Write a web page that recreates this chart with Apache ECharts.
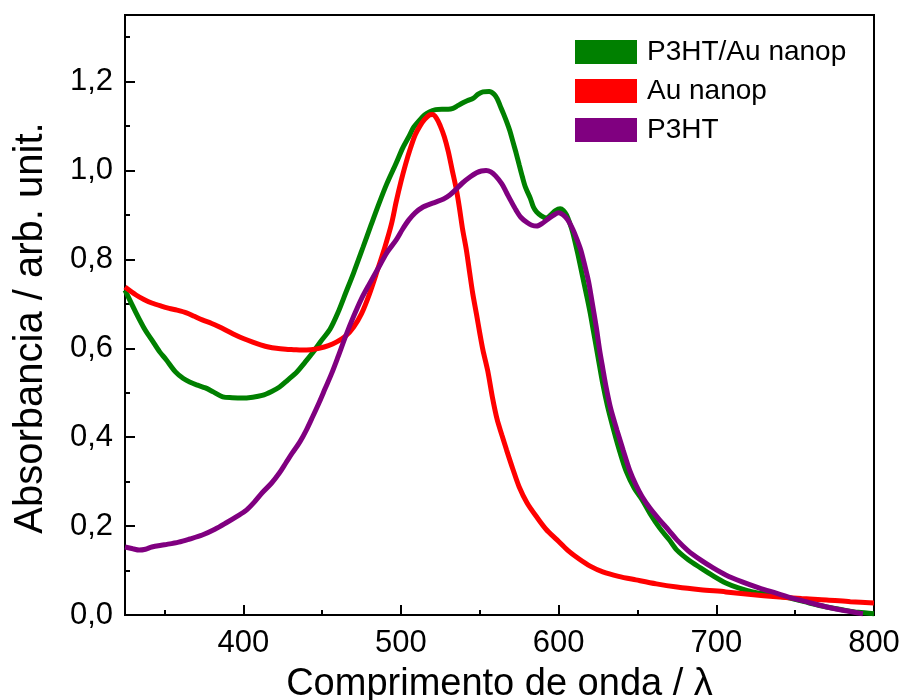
<!DOCTYPE html>
<html>
<head>
<meta charset="utf-8">
<script src="https://cdn.jsdelivr.net/npm/echarts@6/dist/echarts.min.js"></script>
<style>
html,body{margin:0;padding:0;background:#fff;}
#chart{width:904px;height:700px;}
</style>
</head>
<body>
<div id="chart"></div>
<script>
// ---- data (wavelength nm, absorbance) ----
const seriesNames = ['P3HT/Au nanop', 'Au nanop', 'P3HT'];

const p3htAu = [[325,0.731],[332,0.68],[338,0.64],[342,0.619],[347,0.592],[351,0.575],[357,0.547],[362,0.532],[366,0.524],[371,0.517],[376,0.511],[381,0.502],[387,0.491],[393,0.489],[399,0.488],[406,0.49],[412,0.494],[418,0.503],[423,0.513],[428,0.528],[434,0.547],[439,0.568],[444,0.59],[449,0.615],[455,0.643],[460,0.68],[465,0.725],[470,0.77],[476,0.828],[481,0.877],[486,0.925],[491,0.97],[497,1.017],[501,1.05],[505,1.076],[508,1.097],[512,1.114],[515,1.125],[518,1.132],[522,1.137],[526,1.138],[530,1.138],[533,1.14],[536,1.146],[539,1.152],[542,1.157],[546,1.163],[549,1.172],[552,1.177],[556,1.178],[559,1.172],[561,1.162],[563,1.145],[565,1.128],[567,1.11],[569,1.09],[571,1.065],[573,1.04],[575,1.013],[577,0.986],[579,0.962],[582,0.938],[584,0.918],[586,0.907],[589,0.898],[592,0.893],[595,0.9],[598,0.91],[601,0.914],[603,0.91],[605,0.9],[607,0.882],[609,0.86],[612,0.815],[615,0.765],[618,0.715],[620,0.68],[622,0.64],[625,0.58],[628,0.52],[631,0.47],[635,0.415],[639,0.365],[643,0.322],[648,0.285],[653,0.259],[658,0.228],[664,0.196],[670,0.17],[675,0.146],[682,0.125],[690,0.106],[698,0.088],[706,0.072],[714,0.061],[723,0.052],[731,0.047],[738,0.043],[748,0.037],[759,0.027],[770,0.018],[781,0.011],[790,0.006],[800,0.003]];

const auNanop = [[325,0.738],[332,0.72],[337,0.71],[342,0.702],[348,0.695],[353,0.69],[358,0.686],[364,0.68],[369,0.672],[374,0.664],[380,0.656],[385,0.648],[390,0.639],[395,0.63],[400,0.622],[406,0.614],[411,0.608],[416,0.603],[421,0.6],[427,0.598],[432,0.597],[437,0.596],[443,0.597],[448,0.6],[454,0.606],[459,0.614],[465,0.628],[470,0.648],[475,0.678],[480,0.722],[485,0.775],[490,0.83],[494,0.88],[497,0.93],[500,0.975],[503,1.015],[506,1.05],[509,1.08],[512,1.1],[515,1.115],[518,1.125],[520,1.126],[522.5,1.118],[525,1.1],[527.5,1.076],[530,1.043],[532.5,1.001],[535,0.96],[537,0.918],[539,0.87],[541.5,0.821],[543.5,0.772],[545.5,0.724],[548,0.675],[550,0.634],[552,0.596],[555,0.55],[558,0.49],[561,0.44],[564,0.405],[567,0.371],[571,0.328],[575,0.288],[580,0.252],[586,0.221],[592,0.193],[599,0.169],[606,0.145],[613,0.126],[620,0.11],[628,0.097],[638,0.087],[649,0.079],[662,0.07],[675,0.063],[690,0.057],[706,0.052],[722,0.046],[738,0.041],[754,0.037],[770,0.034],[785,0.03],[800,0.027]];

const p3ht = [[325,0.153],[330,0.149],[334,0.146],[338,0.148],[342,0.153],[350,0.158],[359,0.164],[366,0.171],[374,0.18],[382,0.193],[389,0.207],[396,0.222],[402,0.236],[407,0.254],[412,0.275],[418,0.297],[423,0.32],[427,0.342],[431,0.364],[436,0.39],[440,0.416],[444,0.446],[448,0.477],[452,0.51],[456,0.543],[460,0.58],[465,0.628],[470,0.672],[475,0.712],[480,0.745],[486,0.783],[491,0.815],[497,0.844],[501,0.868],[505,0.889],[509,0.905],[514,0.918],[518,0.924],[522,0.929],[527,0.936],[531,0.945],[535,0.958],[539,0.972],[544,0.986],[548,0.995],[551,0.999],[554,1.0],[557,0.997],[560,0.988],[564,0.97],[567,0.95],[570,0.93],[573,0.911],[576,0.895],[580,0.883],[583,0.877],[586,0.875],[590,0.882],[594,0.893],[597,0.9],[600,0.905],[603,0.9],[606,0.888],[609,0.868],[611,0.851],[614,0.822],[616,0.795],[619,0.75],[621,0.709],[624,0.645],[626,0.596],[628,0.555],[630,0.515],[633,0.465],[637,0.416],[641,0.37],[645,0.326],[649,0.293],[653,0.266],[658,0.24],[664,0.214],[670,0.19],[675,0.169],[682,0.145],[690,0.124],[698,0.106],[706,0.09],[716,0.075],[727,0.061],[738,0.049],[748,0.038],[759,0.028],[770,0.018],[781,0.01],[793,0.003]];

const xMajorTicks = [400, 500, 600, 700, 800];
const xMinorTicks = [350, 450, 550, 650, 750];
const yMajorTicks = [0, 0.2, 0.4, 0.6, 0.8, 1.0, 1.2];
const yMinorTicks = [0.1, 0.3, 0.5, 0.7, 0.9, 1.1, 1.3];

const xTitle = 'Comprimento de onda / λ';
const yTitle = 'Absorbancia / arb. unit.';

// ---- chart ----
const FONT = '"Liberation Sans", Arial, sans-serif';
const colors = ['#008000', '#ff0000', '#800080'];
const chart = echarts.init(document.getElementById('chart'), null, {renderer: 'canvas'});

const xMin = 325, xMax = 800, yMin = 0, yMax = 1.35;
const axisLine = {show: true, lineStyle: {color: '#000', width: 2}};

const option = {
  backgroundColor: '#fff',
  animation: false,
  textStyle: {fontFamily: FONT},
  grid: {left: 125, top: 15, width: 749, height: 600, show: true, borderColor: '#000', borderWidth: 2,
    backgroundColor: 'transparent', containLabel: false, outerBoundsMode: 'none'},
  legend: {
    data: seriesNames,
    orient: 'vertical',
    left: 575, top: 38,
    padding: 0,
    icon: 'rect',
    itemWidth: 62, itemHeight: 24, itemGap: 11,
    textStyle: {fontSize: 28, color: '#000', fontFamily: FONT, padding: [0, 0, 0, 5]}
  },
  graphic: [{
    type: 'text',
    x: 31, y: 328, rotation: Math.PI / 2,
    style: {text: yTitle, fontSize: 40, fontFamily: FONT, fill: '#000', align: 'center', verticalAlign: 'middle'}
  }],
  xAxis: [
    {
      type: 'value', min: xMin, max: xMax, position: 'bottom',
      axisLine: axisLine,
      axisTick: {show: true, inside: true, length: 10, lineStyle: {color: '#000', width: 2}, customValues: xMajorTicks},
      axisLabel: {show: true, customValues: xMajorTicks, fontSize: 31, color: '#000', fontFamily: FONT, margin: 13},
      splitLine: {show: false},
      name: xTitle, nameLocation: 'middle', nameGap: 51,
      nameTextStyle: {fontSize: 38, color: '#000', fontFamily: FONT}
    },
    {
      type: 'value', min: xMin, max: xMax, position: 'bottom',
      axisLine: {show: false},
      axisTick: {show: true, inside: true, length: 5, lineStyle: {color: '#000', width: 2}, customValues: xMinorTicks},
      axisLabel: {show: false},
      splitLine: {show: false}
    }
  ],
  yAxis: [
    {
      type: 'value', min: yMin, max: yMax, position: 'left',
      axisLine: axisLine,
      axisTick: {show: true, inside: true, length: 10, lineStyle: {color: '#000', width: 2}, customValues: yMajorTicks},
      axisLabel: {show: true, customValues: yMajorTicks, fontSize: 31, color: '#000', fontFamily: FONT, margin: 12,
        formatter: v => Number(v).toFixed(1).replace('.', ',')},
      splitLine: {show: false}
    },
    {
      type: 'value', min: yMin, max: yMax, position: 'left',
      axisLine: {show: false},
      axisTick: {show: true, inside: true, length: 5, lineStyle: {color: '#000', width: 2}, customValues: yMinorTicks},
      axisLabel: {show: false},
      splitLine: {show: false}
    }
  ],
  series: [
    {name: seriesNames[0], data: p3htAu, color: colors[0]},
    {name: seriesNames[1], data: auNanop, color: colors[1]},
    {name: seriesNames[2], data: p3ht, color: colors[2]}
  ].map(s => ({
    type: 'line', name: s.name, data: s.data, xAxisIndex: 0, yAxisIndex: 0,
    showSymbol: false, smooth: 0.3, clip: true,
    lineStyle: {color: s.color, width: 5},
    itemStyle: {color: s.color}
  }))
};
chart.setOption(option);
</script>
</body>
</html>
